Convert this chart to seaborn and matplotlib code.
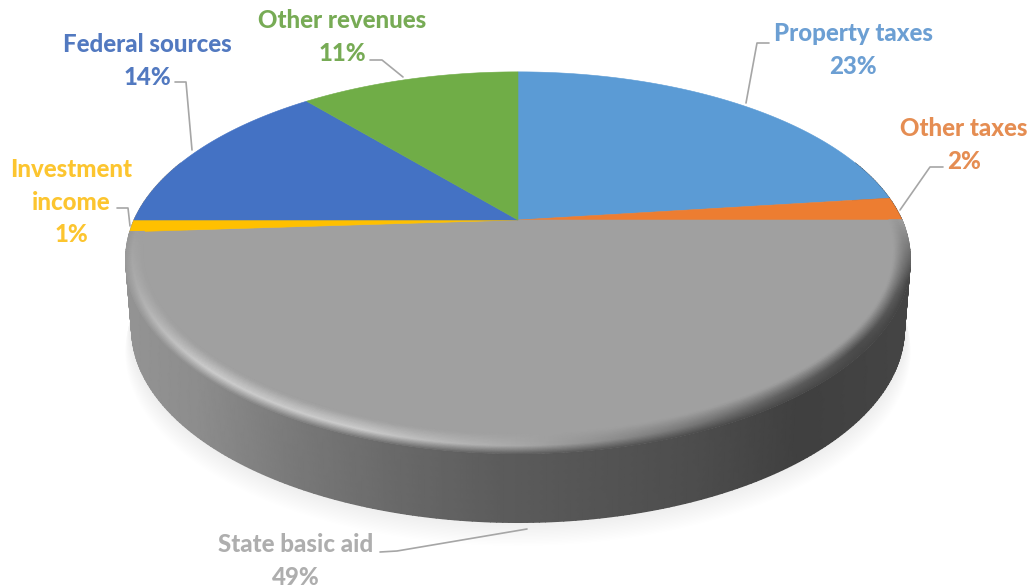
import numpy as np
import matplotlib
matplotlib.use("Agg")
import matplotlib.pyplot as plt
import seaborn as sns

# Revenue shares in percent, clockwise from twelve o'clock
sources = ["Property taxes", "Other taxes", "State basic aid",
           "Investment income", "Federal sources", "Other revenues"]
shares = [23, 2, 49, 1, 14, 11]
slice_colors = ["#5b9bd5", "#ed7d31", "#a0a0a0", "#ffc000", "#4472c4", "#70ad47"]
label_colors = ["#6c9fd3", "#e58d52", "#aeaeae", "#fcc52f", "#5279c0", "#77ab55"]
label_lines = ["Property taxes", "Other taxes", "State basic aid",
               "Investment\nincome", "Federal sources", "Other revenues"]

# Canvas layout, in pixels
W, H = 1031, 587
CX, CY = 518, 220
RX, RY = 384, 178.5
TILT = 0.205
FRONT_STRETCH = 1.04
DEPTH = 69
BOTTOM_SCALE = 0.985
LABEL_POS = [(853, 50), (964, 145), (296, 561), (71, 202), (147, 61), (342, 37)]
LEADERS = [
    [(746, 103), (757, 43), (769, 43)],
    [(900, 210), (930, 167), (943, 167)],
    [(527, 529), (397, 551), (380, 552)],
    [(130, 226), (128, 208), (117, 208)],
    [(192, 150), (186, 82), (175, 82)],
    [(403, 77), (382, 60), (370, 60)],
]

sns.set_theme(style="white")
palette = sns.color_palette(slice_colors)
text_palette = sns.color_palette(label_colors)


def project(theta, r=1.0):
    """Map a disc point (clockwise angle from the top, radius) to the canvas."""
    u, v = r * np.sin(theta), r * np.cos(theta)
    depth = 1 + TILT * v
    stretch = np.where(v < 0, FRONT_STRETCH, 1.0)
    return CX + RX * u / depth, CY - RY * v * stretch / depth


def lower(x, y):
    """Same point on the underside of the disc."""
    return CX + (x - CX) * BOTTOM_SCALE, y + DEPTH


fig = plt.figure(figsize=(W / 100, H / 100), dpi=100, facecolor="white")
ax = fig.add_axes([0, 0, 1, 1])
ax.set_xlim(0, W)
ax.set_ylim(H, 0)
ax.axis("off")

full = np.linspace(0, 2 * np.pi, 400)

# Soft shadow under the disc
for i in range(22):
    sx, sy = lower(*project(full))
    grow = 1 + 0.0008 * i
    ax.fill(CX + (sx - CX) * grow, sy + 1.4 * i - 6, color="black", alpha=0.005,
            lw=0, zorder=1)

# Outer wall, shaded left to right
edges = np.cumsum([0] + shares) / sum(shares) * 2 * np.pi
wall_theta = np.linspace(np.radians(70), np.radians(290), 300)
tx, ty = project(wall_theta)
bx, by = lower(tx, ty)
fr = np.linspace(0, 1, 8)
WX = np.outer(1 - fr, tx) + np.outer(fr, bx)
WY = np.outer(1 - fr, ty) + np.outer(fr, by)
wall_shade = np.interp(WX, [125, 200, 300, 400, 500, 600, 700, 800, 911],
                       [.58, .55, .47, .41, .36, .33, .30, .25, .27])
ax.pcolormesh(WX, WY, wall_shade, shading="gouraud", cmap="gray", vmin=0, vmax=1,
              zorder=2, rasterized=True)

# Top face slices
for i, (a, b) in enumerate(zip(edges[:-1], edges[1:])):
    t = np.linspace(a, b, 200)
    x, y = project(t)
    ax.fill(np.r_[CX, x], np.r_[CY, y], color=palette[i], lw=0.4, ec=palette[i], zorder=3)

# Bevelled rim along the front slice: narrow at the sides, wider at the front
rim_theta = np.linspace(edges[2], edges[3], 300)
rim_s = np.linspace(0, 1, 16)
TT, S = np.meshgrid(rim_theta, rim_s)
RR = 1 - S * (0.035 + 0.035 * np.abs(np.cos(TT)))
RimX, RimY = project(TT, RR)
deg = np.degrees(TT)
base = palette[2][0]
lit = np.interp(deg, [90, 100, 112, 128, 145, 165, 180, 200, 225, 250, 266],
                [.60, .50, .36, .30, .38, .52, .66, .80, .80, .68, .63])
edge = np.interp(RimX, [125, 300, 500, 700, 911], [.60, .50, .38, .30, .27])
fade = np.interp(deg, [90, 108], [0.0, 1.0])
edge = base + (edge - base) * fade
shade = np.where(S < 0.4, edge + (lit - edge) * S / 0.4, lit + (base - lit) * (S - 0.4) / 0.6)
ax.pcolormesh(RimX, RimY, shade, shading="gouraud", cmap="gray", vmin=0, vmax=1,
              zorder=4, rasterized=True)

# Leader lines and labels
for pts in LEADERS:
    xs, ys = zip(*pts)
    ax.plot(xs, ys, color="#a6a6a6", lw=1.2, zorder=5, solid_joinstyle="round")

for name, value, pos, col in zip(label_lines, shares, LABEL_POS, text_palette):
    ax.text(pos[0], pos[1], f"{name}\n{value}%", color=col, ha="center", va="center",
            family="Lato", weight="black", fontsize=17.3, linespacing=1.48, zorder=6)

fig.savefig("out.png", dpi=100, facecolor="white")
